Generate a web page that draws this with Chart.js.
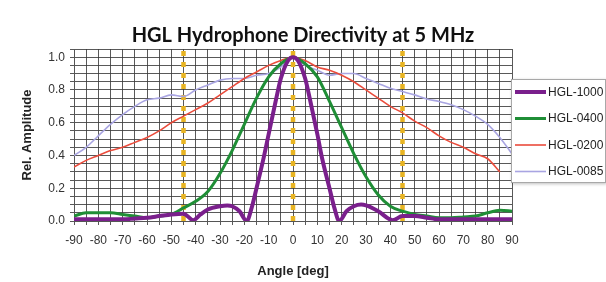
<!DOCTYPE html>
<html>
<head>
<meta charset="utf-8">
<title>HGL Hydrophone Directivity at 5 MHz</title>
<script src="https://cdn.jsdelivr.net/npm/chart.js@4.4.1/dist/chart.umd.min.js"></script>
<style>
  html, body { margin: 0; padding: 0; background: #ffffff; }
  #wrap { width: 606px; height: 282px; position: relative; }
</style>
</head>
<body>
<div id="wrap"><canvas id="directivityChart" width="606" height="282"></canvas></div>
<script>
// ---- data ----
const angles = [-90, -85, -80, -75, -70, -65, -60, -55, -50, -45, -40, -35, -30, -25, -20, -15, -10, -5,
                0, 5, 10, 15, 20, 25, 30, 35, 40, 45, 50, 55, 60, 65, 70, 75, 80, 85, 90];

const hgl0400 = [0.03, 0.05, 0.05, 0.05, 0.04, 0.03, 0.02, 0.03, 0.04, 0.08, 0.12, 0.18, 0.29, 0.43, 0.59, 0.75, 0.88, 0.96,
                 1.00, 0.96, 0.88, 0.73, 0.57, 0.41, 0.27, 0.16, 0.09, 0.06, 0.04, 0.03, 0.02, 0.02, 0.025, 0.03, 0.05, 0.065, 0.06];

const hgl0200 = [0.33, 0.37, 0.40, 0.43, 0.45, 0.48, 0.51, 0.55, 0.60, 0.64, 0.68, 0.72, 0.77, 0.82, 0.87, 0.91, 0.95, 0.98,
                 1.00, 0.98, 0.94, 0.92, 0.89, 0.85, 0.80, 0.75, 0.70, 0.66, 0.61, 0.57, 0.52, 0.48, 0.45, 0.41, 0.38, 0.30, null];

const hgl0085 = [0.40, 0.45, 0.52, 0.59, 0.65, 0.70, 0.74, 0.75, 0.77, 0.76, 0.80, 0.83, 0.86, 0.87, 0.87, 0.89, 0.90, 0.94,
                 1.00, 0.95, 0.92, 0.89, 0.90, 0.90, 0.87, 0.84, 0.81, 0.79, 0.77, 0.745, 0.73, 0.71, 0.68, 0.64, 0.59, 0.51, 0.41];

// HGL-1000 has a narrow lobe, so it is read at a finer angle step
const hgl1000Angles = [-90, -80, -70, -65, -60, -55, -50, -45, -41, -38, -35, -30, -27, -25, -22, -19, -17, -15, -12, -10, -7, -5, -2,
                       0, 2, 5, 7, 10, 12, 15, 17, 19, 22, 25, 28, 30, 35, 41, 45, 50, 55, 60, 70, 80, 90];
const hgl1000 = [0.01, 0.01, 0.01, 0.015, 0.02, 0.03, 0.04, 0.045, 0.005, 0.04, 0.07, 0.09, 0.095, 0.09, 0.06, 0.0, 0.08, 0.2, 0.39, 0.53, 0.74, 0.87, 0.98,
                 1.00, 0.98, 0.87, 0.74, 0.53, 0.38, 0.2, 0.08, 0.0, 0.06, 0.09, 0.10, 0.095, 0.06, 0.005, 0.03, 0.03, 0.02, 0.01, 0.01, 0.01, 0.01];

const markerAngles = [-45, 0, 45];
const seriesNames = ['HGL-1000', 'HGL-0400', 'HGL-0200', 'HGL-0085'];
const seriesColors = ['#7a1f8c', '#1f8e36', '#ea4c3c', '#a9a5e2'];

const xTickLabelStep = 10;
const yTickLabelStep = 0.2;

// ---- helpers ----
function toPoints(xs, ys) {
    return xs.map((x, i) => ({ x: x, y: ys[i] }));
}

const seriesData = [
    toPoints(hgl1000Angles, hgl1000),
    toPoints(angles, hgl0400),
    toPoints(angles, hgl0200),
    toPoints(angles, hgl0085)
];
const seriesWidths = [4, 3, 1.6, 1.6];

const datasets = seriesNames.map((name, i) => ({
    label: name,
    data: seriesData[i],
    borderColor: seriesColors[i],
    backgroundColor: seriesColors[i],
    borderWidth: seriesWidths[i],
    pointRadius: 0,
    cubicInterpolationMode: 'monotone',
    spanGaps: false,
    order: i + 1
}));

markerAngles.forEach(a => {
    datasets.push({
        label: '_marker',
        data: [{ x: a, y: 0 }, { x: a, y: 1.05 }],
        borderColor: '#e8b422',
        borderWidth: 4.5,
        borderDash: [5, 6],
        pointRadius: 0,
        order: 20
    });
});

// legend box drawn on top of the right edge of the plot, like the original
const boxLegend = {
    id: 'boxLegend',
    afterDraw(chart, args, opts) {
        const ctx = chart.ctx;
        ctx.save();
        ctx.shadowColor = 'rgba(0,0,0,0.25)';
        ctx.shadowBlur = 3;
        ctx.shadowOffsetX = 1;
        ctx.shadowOffsetY = 1;
        ctx.fillStyle = '#ffffff';
        ctx.fillRect(opts.x, opts.y, opts.w, opts.h);
        ctx.shadowColor = 'transparent';
        ctx.strokeStyle = '#a8a8a8';
        ctx.lineWidth = 1;
        ctx.strokeRect(opts.x + 0.5, opts.y + 0.5, opts.w - 1, opts.h - 1);

        ctx.font = '12px "Liberation Sans", Arial, sans-serif';
        ctx.textBaseline = 'middle';
        ctx.textAlign = 'left';
        seriesNames.forEach((name, i) => {
            const cy = opts.y + opts.firstRow + i * opts.rowGap;
            ctx.strokeStyle = seriesColors[i];
            ctx.lineWidth = seriesWidths[i];
            ctx.beginPath();
            ctx.moveTo(opts.x + 4, cy);
            ctx.lineTo(opts.x + 35, cy);
            ctx.stroke();
            ctx.fillStyle = '#222222';
            ctx.fillText(name, opts.x + 37, cy + 0.5);
        });
        ctx.restore();
    }
};

const gridColor = 'rgba(60, 60, 60, 0.85)';

new Chart(document.getElementById('directivityChart'), {
    type: 'line',
    data: { datasets: datasets },
    plugins: [boxLegend],
    options: {
        responsive: false,
        animation: false,
        devicePixelRatio: 1,
        layout: { padding: 0 },
        plugins: {
            legend: { display: false },
            tooltip: { enabled: false },
            title: {
                display: true,
                text: 'HGL Hydrophone Directivity at 5 MHz',
                color: '#111111',
                font: { family: 'Lato, "Open Sans", sans-serif', size: 20, weight: 'bold', lineHeight: 1.2 },
                padding: { top: 24, bottom: 1 }
            },
            boxLegend: { x: 511, y: 79, w: 95, h: 104, firstRow: 13, rowGap: 26.5 }
        },
        scales: {
            x: {
                type: 'linear',
                min: -90,
                max: 90,
                afterFit(scale) { scale.height = 61; },
                grid: { color: gridColor, lineWidth: 1, tickLength: 4, drawTicks: true },
                border: { color: '#555555' },
                ticks: {
                    stepSize: 5,
                    autoSkip: false,
                    maxRotation: 0,
                    padding: 8,
                    color: '#333333',
                    font: { family: '"Liberation Sans", Arial, sans-serif', size: 12 },
                    callback: v => (Math.abs(v % xTickLabelStep) < 1e-6 ? String(v) : '')
                },
                title: {
                    display: true,
                    text: 'Angle [deg]',
                    color: '#222222',
                    font: { family: '"Liberation Sans", Arial, sans-serif', size: 13, weight: 'bold' },
                    padding: { top: 0, bottom: 3 }
                }
            },
            y: {
                type: 'linear',
                min: 0,
                max: 1.05,
                afterFit(scale) { scale.width = 74; },
                grid: { color: gridColor, lineWidth: 1, tickLength: 4, drawTicks: true },
                border: { color: '#555555' },
                ticks: {
                    stepSize: 0.05,
                    autoSkip: false,
                    padding: 5,
                    color: '#333333',
                    font: { family: '"Liberation Sans", Arial, sans-serif', size: 12 },
                    callback: v => {
                        const r = v / yTickLabelStep;
                        return (Math.abs(r - Math.round(r)) < 1e-6 && v <= 1.0001) ? v.toFixed(1) : '';
                    }
                },
                title: {
                    display: true,
                    text: 'Rel. Amplitude',
                    color: '#222222',
                    font: { family: '"Liberation Sans", Arial, sans-serif', size: 13, weight: 'bold' },
                    padding: { top: 20, bottom: 0 }
                }
            },
            // empty right-hand axis that only reserves room for the legend box
            pad: {
                type: 'linear',
                position: 'right',
                display: true,
                afterFit(scale) { scale.width = 94; },
                grid: { display: false, drawOnChartArea: false },
                border: { display: false },
                ticks: { display: false }
            }
        }
    }
});
</script>
</body>
</html>
